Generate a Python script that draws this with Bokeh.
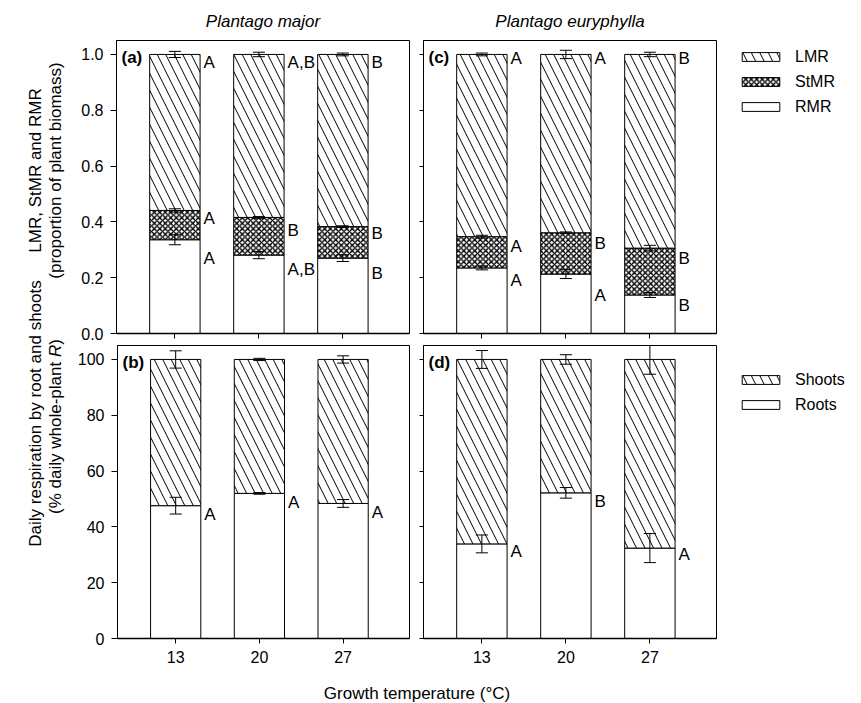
import numpy as np
from bokeh.plotting import figure
from bokeh.layouts import row, column
from bokeh.models import (Range1d, FixedTicker, PrintfTickFormatter, Plot, VBar,
                          ColumnDataSource, Label, Legend, LegendItem)
from bokeh.core.properties import value
from bokeh.embed import file_html
from bokeh.resources import INLINE

FONT = "Liberation Sans"

# ---------------- data ----------------
temps = ["13", "20", "27"]
species = ["Plantago major", "Plantago euryphylla"]
alloc_ticks = [0.0, 0.2, 0.4, 0.6, 0.8, 1.0]
resp_ticks = [0, 20, 40, 60, 80, 100]
alloc_names = ["RMR", "StMR", "LMR"]
resp_names = ["Roots", "Shoots"]

# Plantago major - biomass allocation (fraction of plant biomass)
maj_rmr = [0.336, 0.281, 0.270]
maj_stmr = [0.105, 0.135, 0.113]
maj_lmr = [0.559, 0.584, 0.617]
maj_rmr_err = [0.018, 0.013, 0.012]
maj_stmr_err = [0.006, 0.003, 0.003]
maj_lmr_err = [0.011, 0.008, 0.005]
maj_rmr_let = ["A", "A,B", "B"]
maj_stmr_let = ["A", "B", "B"]
maj_lmr_let = ["A", "A,B", "B"]
maj_rmr_let_y = [0.268, 0.229, 0.215]
maj_stmr_let_y = [0.412, 0.368, 0.358]
maj_lmr_let_y = [0.971, 0.971, 0.971]

# Plantago euryphylla - biomass allocation
eur_rmr = [0.235, 0.213, 0.138]
eur_stmr = [0.112, 0.148, 0.168]
eur_lmr = [0.653, 0.639, 0.694]
eur_rmr_err = [0.007, 0.016, 0.009]
eur_stmr_err = [0.005, 0.003, 0.010]
eur_lmr_err = [0.005, 0.015, 0.008]
eur_rmr_let = ["A", "A", "B"]
eur_stmr_let = ["A", "B", "B"]
eur_lmr_let = ["A", "A", "B"]
eur_rmr_let_y = [0.189, 0.135, 0.099]
eur_stmr_let_y = [0.311, 0.323, 0.267]
eur_lmr_let_y = [0.986, 0.986, 0.986]

# Daily respiration (% of whole-plant R)
maj_roots = [47.6, 52.0, 48.4]
maj_shoots = [52.4, 48.0, 51.6]
maj_roots_err = [3.0, 0.3, 1.4]
maj_shoots_err = [3.1, 0.4, 1.3]
maj_roots_let = ["A", "A", "A"]
maj_roots_let_y = [44.4, 48.6, 45.2]

eur_roots = [33.9, 52.2, 32.4]
eur_shoots = [66.1, 47.8, 67.6]
eur_roots_err = [3.2, 1.9, 5.2]
eur_shoots_err = [3.2, 1.7, 5.3]
eur_roots_let = ["A", "B", "A"]
eur_roots_let_y = [31.2, 49.2, 30.0]

# ---------------- styles ----------------
STYLES = {
    "plain": dict(fill_color="white"),
    "cross": dict(fill_color="white", hatch_pattern="diagonal_cross", hatch_scale=5.5,
                  hatch_weight=1.4, hatch_color="black"),
    "diag": dict(fill_color="white", hatch_pattern="left_diagonal_line", hatch_scale=17,
                 hatch_weight=1.0, hatch_color="black"),
}
FRAME = 293
BAR_W = 0.6


def make_panel(seg_vals, seg_styles, seg_errs, let_lists, let_ys, y_max, y_ticks, y_fmt,
               tag, width, height, title=None, left_labels=True, bottom_labels=True,
               mb_left=42, mb_right=2, mb_top=0, mb_bottom=32):
    x = np.arange(1, len(temps) + 1)
    kw = {"title": title} if title is not None else {}
    p = figure(width=width, height=height,
               x_range=Range1d(0.305, 3.793), y_range=Range1d(0, y_max),
               min_border_left=mb_left, min_border_right=mb_right,
               min_border_top=mb_top, min_border_bottom=mb_bottom,
               output_backend="svg", toolbar_location=None, tools="", **kw)
    if title is not None:
        p.title.align = "center"
        p.title.text_font = FONT
        p.title.text_font_style = "italic"
        p.title.text_font_size = "17px"
        p.title.text_color = "black"
        p.title.standoff = 19
    else:
        p.title_location = None
    p.xgrid.visible = False
    p.ygrid.visible = False
    p.outline_line_color = "black"
    p.outline_line_width = 1
    p.background_fill_color = "white"
    p.border_fill_color = "white"

    xf = x.astype(float)
    bottom = np.zeros(len(x))
    tops = []
    for vals, style in zip(seg_vals, seg_styles):
        top = bottom + np.asarray(vals, dtype=float)
        p.vbar(x=xf, bottom=bottom, top=top, width=BAR_W, line_color="black",
               line_width=1, **STYLES[style])
        tops.append(top)
        bottom = top

    cw = 0.072
    for top, err in zip(tops, seg_errs):
        err = np.asarray(err, dtype=float)
        lo, hi = top - err, top + err
        p.segment(x0=xf, y0=lo, x1=xf, y1=hi, line_color="black", line_width=1)
        p.segment(x0=xf - cw, y0=hi, x1=xf + cw, y1=hi, line_color="black", line_width=1)
        p.segment(x0=xf - cw, y0=lo, x1=xf + cw, y1=lo, line_color="black", line_width=1)

    for lets, ys in zip(let_lists, let_ys):
        p.text(x=xf + BAR_W / 2, y=ys, text=lets, x_offset=3.5, text_align="left",
               text_baseline="middle", text_font=value(FONT), text_font_size="17px",
               text_color="black")

    p.add_layout(Label(x=5, y=FRAME - 17, x_units="screen", y_units="screen", text=tag,
                       text_font=FONT, text_font_size="17px", text_font_style="bold",
                       text_baseline="middle", text_color="black"))

    # axes
    p.xaxis.ticker = FixedTicker(ticks=[int(v) for v in x])
    p.yaxis.ticker = FixedTicker(ticks=list(y_ticks))
    for ax in (p.xaxis[0], p.yaxis[0]):
        ax.axis_line_color = "black"
        ax.major_tick_line_color = "black"
        ax.minor_tick_line_color = None
        ax.major_tick_in = 0
        ax.major_label_text_font = FONT
        ax.major_label_text_font_size = "16px"
        ax.major_label_text_color = "black"
    p.xaxis.major_tick_out = 5
    p.xaxis.axis_line_width = 1.5
    if bottom_labels:
        p.xaxis.major_label_overrides = {int(v): t for v, t in zip(x, temps)}
        p.xaxis.major_label_standoff = 7
    else:
        p.xaxis.major_label_overrides = {int(v): "" for v in x}
        p.xaxis.major_label_standoff = 0
        p.xaxis.major_label_text_font_size = "0px"
    if left_labels:
        p.yaxis.formatter = PrintfTickFormatter(format=y_fmt)
        p.yaxis.major_tick_out = 6
        p.yaxis.major_label_standoff = 7
    else:
        p.yaxis.major_label_overrides = {v: "" for v in y_ticks}
        p.yaxis.major_tick_out = 4
        p.yaxis.major_label_standoff = 0
        p.yaxis.major_label_text_font_size = "0px"
    return p


def blank(width, height, left=0, top=0):
    return Plot(width=width, height=height, x_range=Range1d(0, 1), y_range=Range1d(0, 1),
                toolbar_location=None, output_backend="svg", title=None,
                outline_line_color=None, background_fill_alpha=0, border_fill_alpha=0,
                min_border_left=left, min_border_top=top, min_border_right=0,
                min_border_bottom=0)


def legend_fig(width, height, names, styles, top):
    f = blank(width, height, left=20, top=top)
    items = []
    # legend entries listed top-down (reverse of stacking order)
    for name, style in zip(names[::-1], styles[::-1]):
        # swatch-only renderer: no drawable data, only its style is shown in the legend
        src = ColumnDataSource(dict(x=np.array([np.nan]), top=np.array([np.nan])))
        r = f.add_glyph(src, VBar(x="x", top="top", width=0.5, line_color="black",
                                  line_width=1, **STYLES[style]))
        items.append(LegendItem(label=name, renderers=[r]))
    leg = Legend(items=items, location="top_left", margin=0, padding=0, spacing=6,
                 glyph_width=47, glyph_height=11, label_height=19, label_standoff=11,
                 label_text_font=FONT, label_text_font_size="16px", label_text_color="black",
                 border_line_color=None, background_fill_alpha=0)
    f.add_layout(leg)
    return f


pa = make_panel([maj_rmr, maj_stmr, maj_lmr], ["plain", "cross", "diag"],
                [maj_rmr_err, maj_stmr_err, maj_lmr_err],
                [maj_rmr_let, maj_stmr_let, maj_lmr_let],
                [maj_rmr_let_y, maj_stmr_let_y, maj_lmr_let_y],
                1.05, alloc_ticks, "%.1f", "(a)", 337, 345, title=species[0],
                left_labels=True, bottom_labels=False,
                mb_left=42, mb_right=2, mb_top=40, mb_bottom=12)
pc = make_panel([eur_rmr, eur_stmr, eur_lmr], ["plain", "cross", "diag"],
                [eur_rmr_err, eur_stmr_err, eur_lmr_err],
                [eur_rmr_let, eur_stmr_let, eur_lmr_let],
                [eur_rmr_let_y, eur_stmr_let_y, eur_lmr_let_y],
                1.05, alloc_ticks, "%.1f", "(c)", 306, 345, title=species[1],
                left_labels=False, bottom_labels=False,
                mb_left=12, mb_right=1, mb_top=40, mb_bottom=12)
pb = make_panel([maj_roots, maj_shoots], ["plain", "diag"],
                [maj_roots_err, maj_shoots_err],
                [maj_roots_let], [maj_roots_let_y],
                105, resp_ticks, "%d", "(b)", 337, 325,
                left_labels=True, bottom_labels=True,
                mb_left=42, mb_right=2, mb_top=0, mb_bottom=32)
pd_ = make_panel([eur_roots, eur_shoots], ["plain", "diag"],
                 [eur_roots_err, eur_shoots_err],
                 [eur_roots_let], [eur_roots_let_y],
                 105, resp_ticks, "%d", "(d)", 306, 325,
                 left_labels=False, bottom_labels=True,
                 mb_left=12, mb_right=1, mb_top=0, mb_bottom=32)

leg1 = legend_fig(143, 345, alloc_names, ["plain", "cross", "diag"], 47)
leg2 = legend_fig(143, 325, resp_names, ["plain", "diag"], 25)

# y-axis titles (span both rows)
ylab = blank(74, 702)
LAB = dict(x_units="screen", y_units="screen", text_font=FONT, text_font_size="17px",
           text_color="black", angle=np.pi / 2, text_baseline="middle")
ylab.add_layout(Label(x=35, y=532, text="LMR, StMR and RMR", text_align="center", **LAB))
ylab.add_layout(Label(x=55, y=532, text="(proportion of plant biomass)", text_align="center", **LAB))
ylab.add_layout(Label(x=35, y=289, text="Daily respiration by root and shoots", text_align="center", **LAB))
ylab.add_layout(Label(x=55, y=188.6, text="(% daily whole-plant", text_align="left", **LAB))
ylab.add_layout(Label(x=55, y=345.4, text="R", text_align="left", text_font_style="italic", **LAB))
ylab.add_layout(Label(x=55, y=357.7, text=")", text_align="left", **LAB))

# shared x-axis title
xlab = blank(643, 32, left=42)
xlab.add_layout(Label(x=300.5, y=9, x_units="screen", y_units="screen",
                      text="Growth temperature (°C)", text_align="center",
                      text_baseline="alphabetic", text_font=FONT, text_font_size="17px",
                      text_color="black"))

panels = column(row(pa, pc), row(pb, pd_), xlab)
legends = column(leg1, leg2)
layout = row(ylab, panels, legends)

open("out.html", "w").write(file_html(layout, INLINE))
